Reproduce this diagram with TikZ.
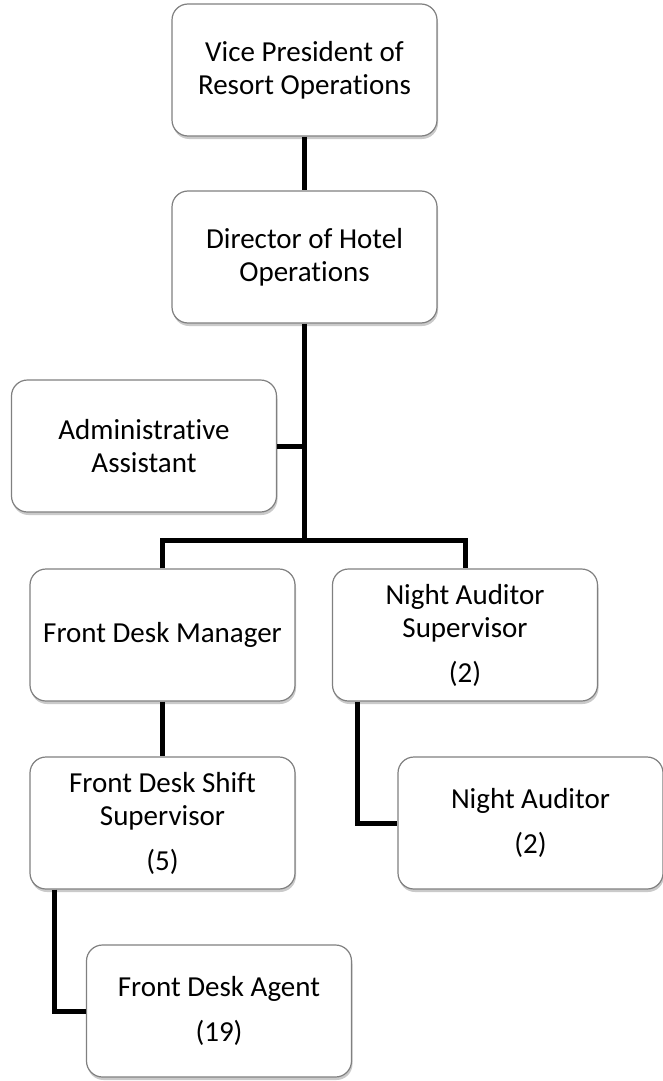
\documentclass[tikz,border=0pt]{standalone}
\usepackage{fontspec}
\setmainfont[Ligatures={NoCommon}]{Carlito}
\usetikzlibrary{shadows}
\begin{document}
\begin{tikzpicture}[x=1pt,y=-1pt,
  orgbox/.style={draw=black!50, line width=1.2pt, fill=white, rounded corners=16pt,
    minimum width=265pt, minimum height=132pt, inner sep=0pt, align=center,
    font=\fontsize{29}{33}\selectfont,
    drop shadow={shadow xshift=1pt, shadow yshift=-3pt, opacity=0.35, fill=black!60}},
  link/.style={line width=5pt, line join=miter}]
\useasboundingbox (0,0) rectangle (663,1081);
\node[orgbox] (vp)  at (304.5,70)  {Vice President of\\Resort Operations};
\node[orgbox] (dir) at (304.5,257) {Director of Hotel\\Operations};
\node[orgbox] (adm) at (144,446)   {Administrative\\Assistant};
\node[orgbox] (fdm) at (162.5,635) {Front Desk Manager};
\node[orgbox] (nas) at (465,635)   {Night Auditor\\Supervisor\\[12pt](2)};
\node[orgbox] (fdss) at (162.5,823) {Front Desk Shift\\Supervisor\\[12pt](5)};
\node[orgbox] (na) at (530.5,823)  {Night Auditor\\[12pt](2)};
\node[orgbox] (fda) at (219,1011)  {Front Desk Agent\\[12pt](19)};
\coordinate (bar) at (304.5,540);
\draw[link] (vp.south) -- (dir.north);
\draw[link] (dir.south) -- (bar);
\draw[link] (adm.east) -- (adm.east -| bar);
\draw[link] (fdm.north) |- (bar) -| (nas.north);
\draw[link] (fdm.south) -- (fdss.north);
\draw[link] (nas.south west) ++(26,0) coordinate (nasd) |- (na.west);
\draw[link] (fdss.south west) ++(25,0) coordinate (fdssd) |- (fda.west);
\end{tikzpicture}
\end{document}
